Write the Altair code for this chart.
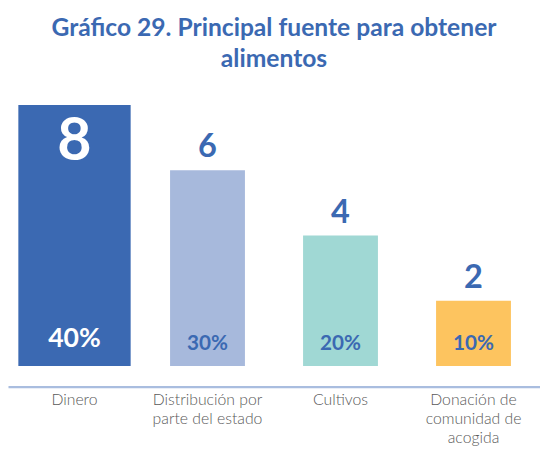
import altair as alt
import pandas as pd

categories = ["Dinero", "Distribución por\nparte del estado", "Cultivos", "Donación de\ncomunidad de\nacogida"]
values = [8, 6, 4, 2]
percents = ["40%", "30%", "20%", "10%"]
colors = ["#3B69B2", "#A7B9DC", "#A0D8D4", "#FDC45F"]

df = pd.DataFrame({"cat": categories, "val": values, "pct": percents})

FONT = "Lato"
BLUE = "#3B69B2"
YDOM = [0, 9]

x = alt.X("cat:N", sort=categories, title=None,
          scale=alt.Scale(paddingOuter=0, paddingInner=0),
          axis=alt.Axis(labelAngle=0, ticks=False, domainColor="#A9BDDF", domainWidth=2.5,
                        offset=21, labelPadding=5, labelColor="#595959", labelFont=FONT,
                        labelFontSize=16, labelFontWeight=300, labelLineHeight=19.5, labelBaseline="top",
                        labelExpr="split(datum.label, '\\n')"))
y = alt.Y("val:Q", scale=alt.Scale(domain=YDOM), axis=None)
y0 = alt.Y("zero:Q", scale=alt.Scale(domain=YDOM), axis=None)

base = alt.Chart(df)

bars = base.mark_bar().encode(
    x=x, y=y,
    color=alt.Color("cat:N", scale=alt.Scale(domain=categories, range=colors), legend=None),
    size=alt.condition(alt.datum.cat == "Dinero", alt.value(114), alt.value(76)),
)

big = base.transform_filter(alt.datum.cat == "Dinero").mark_text(
    font=FONT, fontWeight="bold", fontSize=60, color="white", baseline="top", dy=9
).encode(x=x, y=y, text="val:Q")

nums = base.transform_filter(alt.datum.cat != "Dinero").mark_text(
    font=FONT, fontWeight="bold", fontSize=33, color=BLUE, baseline="bottom", dy=-6
).encode(x=x, y=y, text="val:Q")

pct_big = base.transform_calculate(zero="0").transform_filter(alt.datum.cat == "Dinero").mark_text(
    font=FONT, fontWeight="bold", fontSize=27, color="white", baseline="alphabetic", dy=-19
).encode(x=x, y=y0, text="pct:N")

pct = base.transform_calculate(zero="0").transform_filter(alt.datum.cat != "Dinero").mark_text(
    font=FONT, fontWeight="bold", fontSize=21, color=BLUE, baseline="alphabetic", dy=-16
).encode(x=x, y=y0, text="pct:N")

chart = alt.layer(bars, big, nums, pct_big, pct).properties(
    width=540, height=298,
    title=alt.TitleParams(["Gráfico 29. Principal fuente para obtener", "alimentos"],
                          font=FONT, fontSize=25, fontWeight="bold", color=BLUE,
                          anchor="middle", lineHeight=32, offset=0),
).configure(padding={"top": 5, "left": 0, "right": 0, "bottom": 0}).configure_view(stroke=None)

chart.save("out.html", embed_options={"renderer": "svg", "actions": False})
